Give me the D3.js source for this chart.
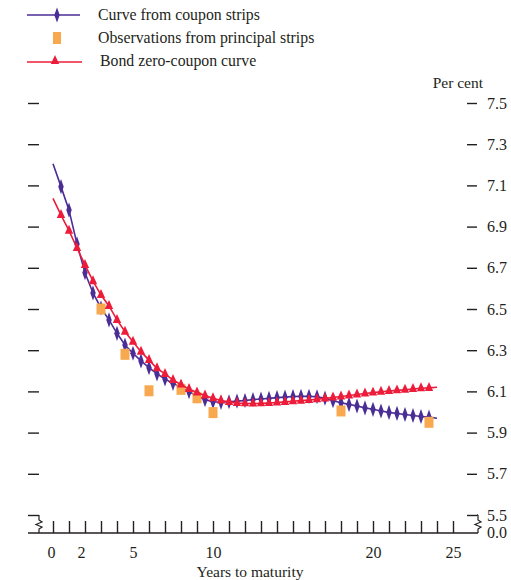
<!DOCTYPE html>
<html>
<head>
<meta charset="utf-8">
<script src="https://cdn.jsdelivr.net/npm/d3@7"></script>
<style>
  body { margin: 0; background: #fff; }
  text { font-family: "Liberation Serif", "Times New Roman", serif; fill: #231f20; }
</style>
</head>
<body>
<svg id="chart" width="511" height="580"></svg>
<script>
// years to maturity (0.5-year grid, markers on interior points)
const years = [0, 0.5, 1, 1.5, 2, 2.5, 3, 3.5, 4, 4.5, 5, 5.5, 6, 6.5, 7, 7.5, 8, 8.5, 9, 9.5,
  10, 10.5, 11, 11.5, 12, 12.5, 13, 13.5, 14, 14.5, 15, 15.5, 16, 16.5, 17, 17.5, 18, 18.5, 19, 19.5,
  20, 20.5, 21, 21.5, 22, 22.5, 23, 23.5, 24];

const couponStrips = [7.205, 7.094, 6.98, 6.816, 6.676, 6.578, 6.505, 6.447, 6.382, 6.325,
  6.285, 6.248, 6.215, 6.185, 6.16, 6.139, 6.12, 6.099, 6.078, 6.06,
  6.05, 6.047, 6.05, 6.053, 6.056, 6.06, 6.063, 6.066, 6.07, 6.072,
  6.075, 6.076, 6.076, 6.074, 6.067, 6.055, 6.045, 6.037, 6.029, 6.02,
  6.013, 6.005, 5.998, 5.993, 5.988, 5.983, 5.978, 5.975, 5.97];

const bondZero = [7.037, 6.956, 6.88, 6.796, 6.714, 6.635, 6.568, 6.515, 6.447, 6.39,
  6.341, 6.293, 6.252, 6.212, 6.185, 6.155, 6.133, 6.112, 6.095, 6.08,
  6.067, 6.056, 6.049, 6.044, 6.042, 6.041, 6.042, 6.044, 6.046, 6.049,
  6.052, 6.055, 6.058, 6.062, 6.066, 6.07, 6.075, 6.08, 6.085, 6.09,
  6.094, 6.098, 6.102, 6.105, 6.108, 6.112, 6.115, 6.117, 6.12];

const obsYears = [3, 4.5, 6, 8, 9, 10, 18, 23.5];
const obsValues = [6.5, 6.28, 6.103, 6.11, 6.069, 5.997, 6.005, 5.95];

const yTicks = [5.5, 5.7, 5.9, 6.1, 6.3, 6.5, 6.7, 6.9, 7.1, 7.3, 7.5];
const xLabels = [0, 2, 5, 10, 20, 25];
const legendNames = ['Curve from coupon strips', 'Observations from principal strips', 'Bond zero-coupon curve'];

const PURPLE = '#4b2d96';
const RED = '#ec1c3a';
const ORANGE = '#f8a84f';
const INK = '#231f20';

const svg = d3.select('#chart');
const x = d3.scaleLinear().domain([0, 25]).range([53, 453]);
const y = d3.scaleLinear().domain([5.5, 7.5]).range([515, 103]);
const BASE = 533;

// left ticks (no labels)
svg.append('g')
  .attr('transform', 'translate(39,0)')
  .call(d3.axisLeft(y).tickValues(yTicks).tickSize(11).tickFormat(''))
  .call(g => g.select('.domain').remove())
  .call(g => g.selectAll('line').attr('stroke', INK).attr('stroke-width', 1.4));

// right axis with labels
svg.append('g')
  .attr('transform', 'translate(467,0)')
  .call(d3.axisRight(y).tickValues(yTicks).tickSize(10).tickPadding(10).tickFormat(d3.format('.1f')))
  .call(g => g.select('.domain').remove())
  .call(g => g.selectAll('line').attr('stroke', INK).attr('stroke-width', 1.4))
  .call(g => g.selectAll('text').attr('font-size', 16).attr('fill', INK)
    .attr('font-family', '"Liberation Serif", serif'));

svg.append('text')
  .attr('x', 487).attr('y', BASE + 5)
  .attr('font-size', 16)
  .text('0.0');

svg.append('text')
  .attr('x', 483).attr('y', 88)
  .attr('text-anchor', 'end')
  .attr('font-size', 15.5)
  .text('Per cent');

// x axis: yearly ticks pointing up
svg.append('g')
  .attr('transform', `translate(0,${BASE})`)
  .call(d3.axisBottom(x).tickValues(d3.range(0, 26)).tickSize(-12).tickFormat(''))
  .call(g => g.select('.domain').remove())
  .call(g => g.selectAll('line').attr('stroke', INK).attr('stroke-width', 1.4));

svg.append('g')
  .attr('transform', `translate(0,${BASE})`)
  .call(d3.axisBottom(x).tickValues(xLabels).tickSize(0).tickPadding(14))
  .call(g => g.select('.domain').remove())
  .call(g => g.selectAll('text').attr('font-size', 16).attr('fill', INK)
    .attr('font-family', '"Liberation Serif", serif')
    .attr('dx', d => d === 0 ? -2 : d === 2 ? -4 : 0));

svg.append('line')
  .attr('x1', 28).attr('x2', 478)
  .attr('y1', BASE).attr('y2', BASE)
  .attr('stroke', INK).attr('stroke-width', 1.4);

// axis breaks
const zig = (x0) => `M${x0},${y(5.5)} L${x0},${y(5.5) + 5} L${x0 + 3},${y(5.5) + 7} L${x0 - 3},${y(5.5) + 9.5}` +
  ` L${x0 + 3},${y(5.5) + 12} L${x0},${y(5.5) + 14} L${x0},${BASE}`;
svg.append('path').attr('d', zig(39)).attr('fill', 'none').attr('stroke', INK).attr('stroke-width', 1.2);
svg.append('path').attr('d', zig(478)).attr('fill', 'none').attr('stroke', INK).attr('stroke-width', 1.2);
svg.append('line').attr('x1', 477).attr('x2', 478).attr('y1', y(5.5)).attr('y2', y(5.5))
  .attr('stroke', INK).attr('stroke-width', 1.4);

svg.append('text')
  .attr('x', 250).attr('y', 577)
  .attr('text-anchor', 'middle')
  .attr('font-size', 15.5)
  .text('Years to maturity');

// series
const line = d3.line().x(d => x(d[0])).y(d => y(d[1]));
const blue = years.map((yr, i) => [yr, couponStrips[i]]);
const red = years.map((yr, i) => [yr, bondZero[i]]);

const diamond = d3.symbol().type(d3.symbolDiamond).size(46)();
const triangle = d3.symbol().type(d3.symbolTriangle).size(42)();

svg.append('path').datum(blue).attr('d', line)
  .attr('fill', 'none').attr('stroke', PURPLE).attr('stroke-width', 1.6);
svg.append('g').selectAll('path').data(blue.slice(1, -1)).join('path')
  .attr('d', diamond)
  .attr('transform', d => `translate(${x(d[0])},${y(d[1])}) scale(0.75,1.2)`)
  .attr('fill', PURPLE);

svg.append('g').selectAll('rect').data(obsYears).join('rect')
  .attr('x', (d, i) => x(d) - 4.5)
  .attr('y', (d, i) => y(obsValues[i]) - 5.5)
  .attr('width', 9).attr('height', 11)
  .attr('fill', ORANGE);

svg.append('path').datum(red).attr('d', line)
  .attr('fill', 'none').attr('stroke', RED).attr('stroke-width', 1.6);
svg.append('g').selectAll('path').data(red.slice(1, -1)).join('path')
  .attr('d', triangle)
  .attr('transform', d => `translate(${x(d[0])},${y(d[1])}) scale(0.85,1.05)`)
  .attr('fill', RED);

// legend
const leg = svg.append('g');
const rows = [15, 38, 61];
leg.append('line').attr('x1', 27).attr('x2', 80).attr('y1', rows[0]).attr('y2', rows[0])
  .attr('stroke', PURPLE).attr('stroke-width', 1.6);
leg.append('path').attr('d', diamond)
  .attr('transform', `translate(57,${rows[0]}) scale(0.75,1.2)`).attr('fill', PURPLE);
leg.append('rect').attr('x', 53).attr('y', rows[1] - 6).attr('width', 8).attr('height', 12).attr('fill', ORANGE);
leg.append('line').attr('x1', 27).attr('x2', 82).attr('y1', rows[2] + 1).attr('y2', rows[2] + 1)
  .attr('stroke', RED).attr('stroke-width', 1.6);
leg.append('path').attr('d', triangle)
  .attr('transform', `translate(55,${rows[2]}) scale(0.85,1.05)`).attr('fill', RED);

leg.selectAll('text').data(legendNames).join('text')
  .attr('x', (d, i) => i === 2 ? 100 : 98)
  .attr('y', (d, i) => rows[i] + 5)
  .attr('font-size', 15.8)
  .text(d => d);
</script>
</body>
</html>
